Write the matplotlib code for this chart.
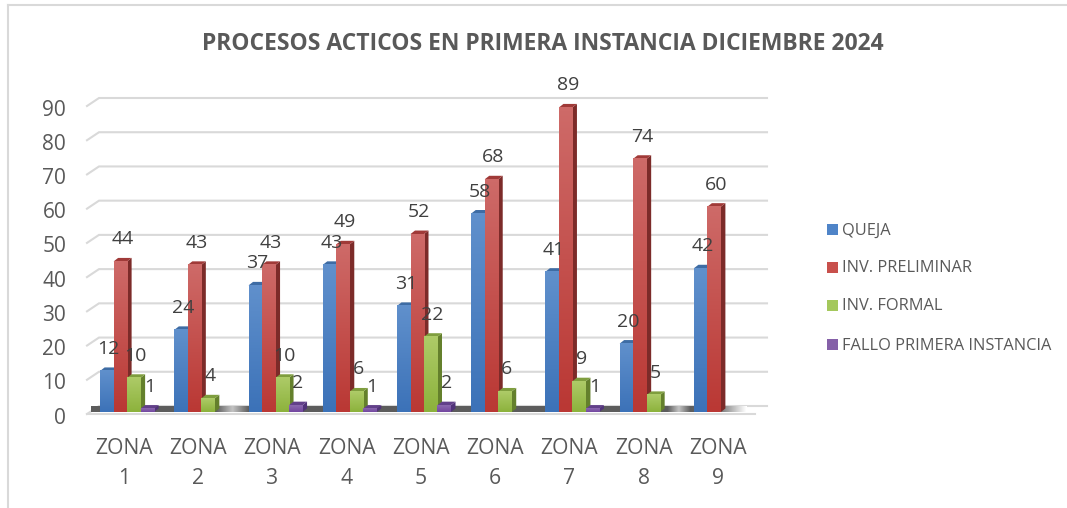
import numpy as np
import matplotlib
matplotlib.use("Agg")
import matplotlib.pyplot as plt
from matplotlib.patches import Polygon
from matplotlib.transforms import offset_copy, ScaledTranslation
from matplotlib.colors import LinearSegmentedColormap

plt.rcParams['font.family'] = ['Open Sans', 'DejaVu Sans']

zones = ["ZONA\n1", "ZONA\n2", "ZONA\n3", "ZONA\n4", "ZONA\n5", "ZONA\n6", "ZONA\n7", "ZONA\n8", "ZONA\n9"]
queja = [12, 24, 37, 43, 31, 58, 41, 20, 42]
preliminar = [44, 43, 43, 49, 52, 68, 89, 74, 60]
formal = [10, 4, 10, 6, 22, 6, 9, 5, 0]
fallo = [1, 0, 2, 1, 2, 0, 1, 0, 0]
names = ["QUEJA", "INV. PRELIMINAR", "INV. FORMAL", "FALLO PRIMERA INSTANCIA"]
title = "PROCESOS ACTICOS EN PRIMERA INSTANCIA DICIEMBRE 2024"
yticks = list(range(0, 100, 10))

W, H = 1067, 508
fig = plt.figure(figsize=(W / 100, H / 100), dpi=100, facecolor='white')
L, R, B, T = 87, 755, 414, 106
ax = fig.add_axes([L / W, 1 - B / H, (R - L) / W, (B - T) / H])
ax.set_xlim(-0.5, 8.5)
ax.set_ylim(0, 90)
ax.patch.set_visible(False)
for s in ax.spines.values():
    s.set_visible(False)
ax.tick_params(length=0)
ax.set_xticks(range(9))
ax.set_xticklabels(zones, fontsize=15.2, color='#595959', linespacing=1.6)
ax.tick_params(axis='x', pad=17)
ax.set_yticks(yticks)
ax.set_yticklabels(yticks, fontsize=15, color='#595959')
ax.tick_params(axis='y', pad=15)
for lab in ax.get_yticklabels():
    lab.set_transform(lab.get_transform() + ScaledTranslation(0, -1.5 / 100, fig.dpi_scale_trans))

pxx = (R - L) / 9            # pixels per category
pxy = (B - T) / 90           # pixels per unit
dx_u, dy_u = 1 / pxx, 1 / pxy

# back wall gridlines and depth lines
gx, gy = 12 * dx_u, 8 * dy_u
xl, xr = -0.5, 8.5
for v in yticks:
    ax.plot([xl, xl + gx, xr + gx], [v, v + gy, v + gy], color='#d9d9d9', lw=1.5, zorder=1,
            clip_on=False, solid_joinstyle='miter')

# dark floor, shading fades in two gaps and at the right end
fx = np.linspace(0, 1, 400)
fade = np.interp(fx, [0, 0.19, 0.215, 0.24, 0.88, 0.897, 0.915, 0.96, 1.0],
                 [0.95, 0.95, 0.35, 0.95, 0.95, 0.35, 0.95, 0.8, 0.0]).reshape(1, -1)
floor_cm = LinearSegmentedColormap.from_list('f', ['#ffffff', '#555555'])
ax.imshow(fade, extent=(xl + 4 * dx_u, xr - 8 * dx_u, 1.5 * dy_u, 7.5 * dy_u), cmap=floor_cm, vmin=0, vmax=1,
          aspect='auto', zorder=1.5, interpolation='bilinear', clip_on=False)
ax.plot([xl, xr], [0, 0], color='#d9d9d9', lw=1.5, zorder=1.6, clip_on=False)

series = [queja, preliminar, formal, fallo]
top_c = ['#6090CC', '#CE6A68', '#AECB68', '#8A68AE']
bot_c = ['#3C72B8', '#BA3834', '#8CB23C', '#7347A0']
side_c = ['#2F5A8E', '#7C2B29', '#64802C', '#51337A']
lid_c = ['#3E6CA4', '#A03A38', '#7F9E3E', '#62408A']
leg_c = ['#4F84C8', '#C8504C', '#A4C85C', '#8560A8']

bw = 13.5 * dx_u
depth_x, depth_y = 4.5 * dx_u, 3.5 * dy_u
bar_tr = offset_copy(ax.transData, fig, x=3, y=2, units='dots')

grad_t = np.linspace(1, 0, 64).reshape(-1, 1)
for i in range(9):
    for k, vals in enumerate(series):
        v = vals[i]
        x0 = i - 2 * bw + k * bw
        x1 = x0 + bw
        z = 3 + i + k * 0.1
        if v == 0:
            continue
        cm = LinearSegmentedColormap.from_list('g', [bot_c[k], top_c[k]])
        ax.add_patch(Polygon([(x1, 0), (x1 + depth_x, depth_y), (x1 + depth_x, v + depth_y), (x1, v)],
                             closed=True, fc=side_c[k], ec='none', zorder=z, transform=bar_tr, clip_on=False))
        ax.add_patch(Polygon([(x0, v), (x0 + depth_x, v + depth_y), (x1 + depth_x, v + depth_y), (x1, v)],
                             closed=True, fc=lid_c[k], ec='none', zorder=z, transform=bar_tr, clip_on=False))
        ax.bar(x0 + bw / 2, v, width=bw, color=bot_c[k], zorder=z + 0.01, transform=bar_tr, clip_on=False)
        ax.imshow(grad_t, extent=(x0, x1, 0, v), cmap=cm, aspect='auto', zorder=z + 0.02,
                  transform=bar_tr, clip_on=False, interpolation='bilinear')
for i in range(9):
    for k, vals in enumerate(series):
        v = vals[i]
        if v == 0:
            continue
        x0 = i - 2 * bw + k * bw
        ax.annotate(str(v), (x0 + bw / 2, v), xytext=(5, 24), textcoords='offset pixels',
                    ha='center', va='center', fontsize=14, color='#404040', zorder=30,
                    annotation_clip=False)
ax.set_xlim(-0.5, 8.5)
ax.set_ylim(0, 90)

# title
fig.text(543 / W, 1 - 43.5 / H, title, ha='center', va='center', fontsize=16.45, fontweight='bold', color='#595959')

# legend
ly = [229, 267, 305, 344]
for n, y, c in zip(names, ly, leg_c):
    swatch = plt.Rectangle((827 / W, 1 - (y + 5.5) / H), 11 / W, 11 / H, transform=fig.transFigure,
                           fc=c, ec='none')
    fig.add_artist(swatch)
    fig.text(842 / W, 1 - (y + 1.5) / H, n, ha='left', va='center', fontsize=11.8, color='#595959')

# chart frame
fig.add_artist(plt.Line2D([8 / W, 8 / W], [0, 1 - 5 / H], color='#d9d9d9', lw=1.5))
fig.add_artist(plt.Line2D([8 / W, 1], [1 - 5 / H, 1 - 5 / H], color='#d9d9d9', lw=1.5))

fig.savefig("out.png", dpi=100, facecolor='white')
